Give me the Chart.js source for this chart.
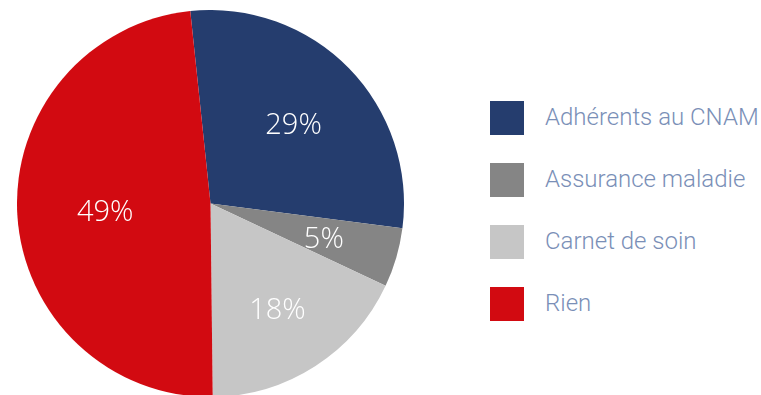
<!DOCTYPE html>
<html>
<head>
<meta charset="utf-8">
<script src="https://cdn.jsdelivr.net/npm/chart.js@4/dist/chart.umd.min.js"></script>
<style>
    html, body { margin: 0; padding: 0; background: #ffffff; }
    body { width: 761px; height: 395px; position: relative; overflow: hidden; }
    #pieBox { position: absolute; left: 17px; top: 10px; width: 387px; height: 387px; }
    #legend { position: absolute; left: 490px; top: 101px; margin: 0; padding: 0; list-style: none; }
    #legend li { display: flex; align-items: center; height: 34px; margin-bottom: 28px; }
    #legend .box { width: 34px; height: 34px; margin-right: 21px; }
    #legend .txt { font-family: Roboto, sans-serif; font-weight: 300; font-size: 24px; color: #7a8fb7; position: relative; top: -1px; }
</style>
</head>
<body>
<div id="pieBox"><canvas id="pieChart"></canvas></div>
<ul id="legend"></ul>
<script>
const labels = ['Adhérents au CNAM', 'Assurance maladie', 'Carnet de soin', 'Rien'];
const values = [29, 5, 18, 49];
const colors = ['#253d6e', '#858585', '#c6c6c6', '#d20a11'];

// distance du libellé au centre, en fraction du rayon
const labelRadius = [0.6, 0.61, 0.64, 0.545];

const sliceLabels = {
    id: 'sliceLabels',
    afterDatasetsDraw(chart) {
        const ctx = chart.ctx;
        const meta = chart.getDatasetMeta(0);
        ctx.save();
        ctx.fillStyle = '#ffffff';
        ctx.font = '300 29px "Open Sans", sans-serif';
        ctx.textAlign = 'center';
        ctx.textBaseline = 'middle';
        meta.data.forEach((arc, i) => {
            const mid = (arc.startAngle + arc.endAngle) / 2;
            const r = arc.outerRadius * labelRadius[i];
            ctx.fillText(values[i] + '%', arc.x + Math.cos(mid) * r, arc.y + Math.sin(mid) * r + 3);
        });
        ctx.restore();
    }
};

new Chart(document.getElementById('pieChart'), {
    type: 'pie',
    data: {
        labels: labels,
        datasets: [{
            data: values,
            backgroundColor: colors,
            borderWidth: 0
        }]
    },
    options: {
        responsive: true,
        maintainAspectRatio: false,
        animation: false,
        rotation: -6,
        layout: { padding: 0 },
        plugins: {
            legend: { display: false },
            tooltip: { enabled: false }
        }
    },
    plugins: [sliceLabels]
});

const legendEl = document.getElementById('legend');
labels.forEach((label, i) => {
    const li = document.createElement('li');
    li.innerHTML = '<span class="box" style="background:' + colors[i] + '"></span><span class="txt">' + label + '</span>';
    legendEl.appendChild(li);
});
</script>
</body>
</html>
